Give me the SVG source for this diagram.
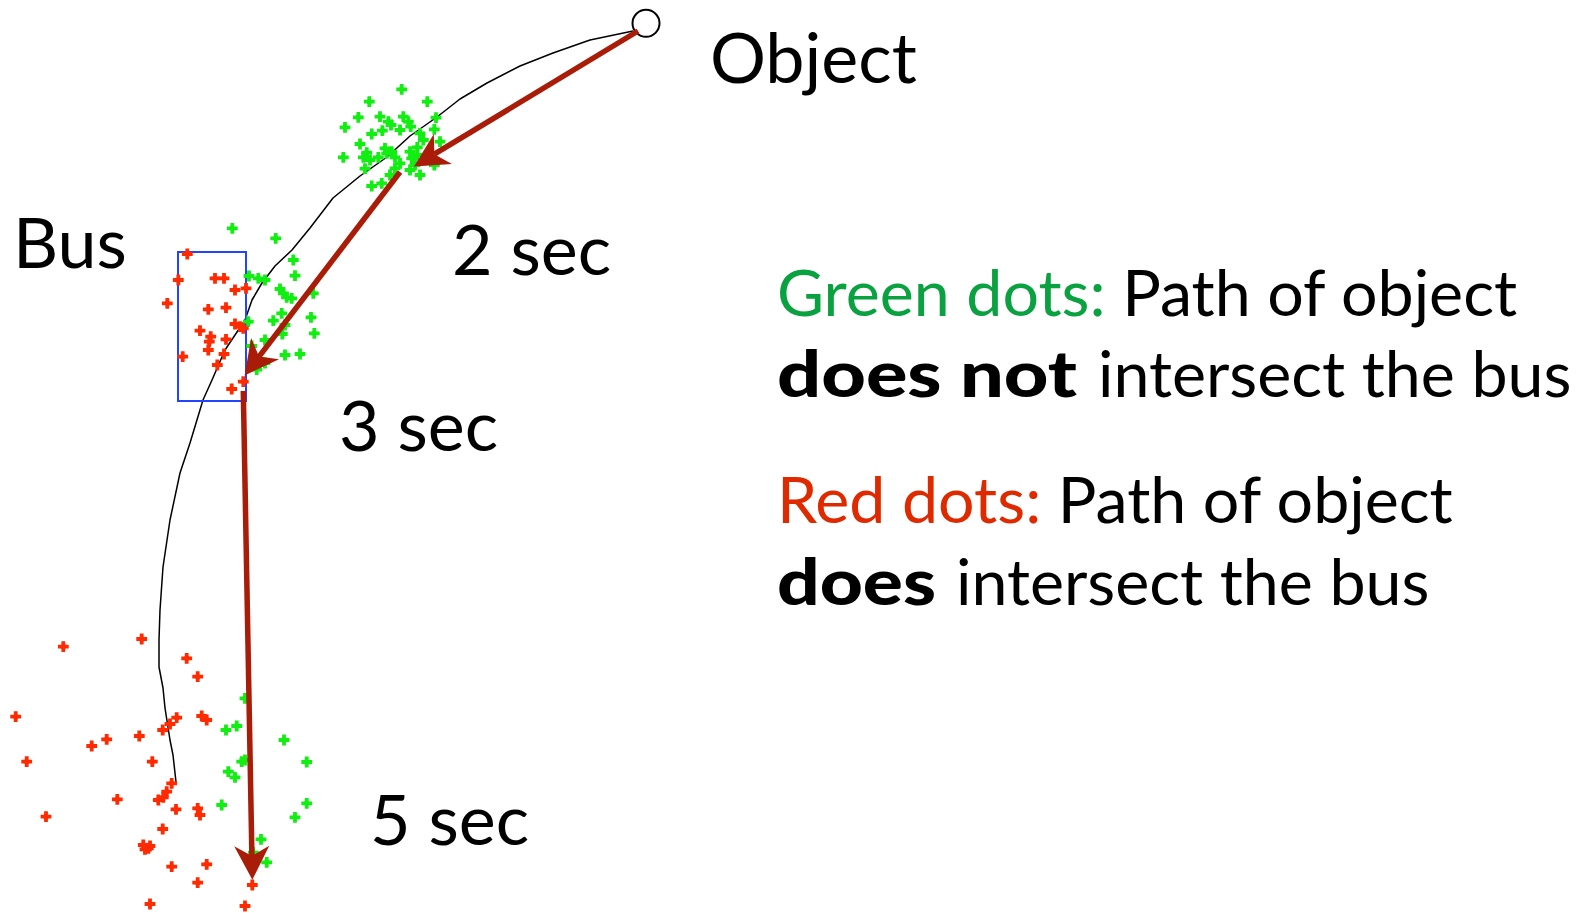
<svg xmlns="http://www.w3.org/2000/svg" xmlns:xlink="http://www.w3.org/1999/xlink" width="1587" height="913" viewBox="0 0 1587 913">
  <style>
    .lbl { font-family: Lato, "Open Sans", "Liberation Sans", sans-serif; fill: #000; }
    .big { font-size: 70px; }
    .note { font-size: 64.5px; }
    .b { font-weight: 900; }
    .gtxt { fill: #0aa140; }
    .rtxt { fill: #df2a00; }
    .gd { fill: #11ee11; }
    .rd { fill: #ff2a00; }
    .arrow { stroke: #a81c08; stroke-width: 5.5; fill: none; marker-end: url(#head); }
  </style>
  <defs>
    <marker id="head" markerUnits="userSpaceOnUse" markerWidth="40" markerHeight="40" refX="0" refY="0" orient="auto" overflow="visible" viewBox="-10 -16 32 32">
      <path d="M-8,-14 L19,0 L-8,14 L0,0 Z" fill="#a81c08"/>
    </marker>
    <!-- sample marker: a thick plus with a filled diamond core -->
    <path id="dot" d="M-5.4,-1.9 H5.4 V1.9 H-5.4 Z M-1.9,-5.4 H1.9 V5.4 H-1.9 Z M0,-4.3 L4.3,0 L0,4.3 L-4.3,0 Z"/>
  </defs>
  <rect width="1587" height="913" fill="#fff"/>

  <!-- trajectory of the object -->
  <g id="trajectory">
    <polyline points="633,31 590,40 553,53 520,66 487,83 460,99 437,117 410,136 387,157 360,176 333,198 310,228 292,250 275,266 262,283 252,300 245,320 235,335 225,350 212,380 203,400 190,443 180,473 170,520 163,567 160,610 159,640 159,667 163,688 165,708 170,740 173,755 176,782" fill="none" stroke="#000" stroke-width="1.5" stroke-linejoin="round"/>
  </g>

  <!-- bus footprint -->
  <g id="bus">
    <rect x="178" y="252" width="68" height="149" fill="none" stroke="#2244ff" stroke-width="2"/>
  </g>

  <!-- green samples: paths that miss the bus -->
  <g id="green-dots" class="gd">
    <use xlink:href="#dot" x="401.7" y="89.3"/><use xlink:href="#dot" x="369.3" y="101.7"/><use xlink:href="#dot" x="427.3" y="101.7"/>
    <use xlink:href="#dot" x="358.3" y="117.3"/><use xlink:href="#dot" x="345" y="127.3"/><use xlink:href="#dot" x="380" y="116.7"/>
    <use xlink:href="#dot" x="388.3" y="121.7"/><use xlink:href="#dot" x="391" y="125"/><use xlink:href="#dot" x="403.3" y="116.7"/>
    <use xlink:href="#dot" x="408.3" y="121.7"/><use xlink:href="#dot" x="410.7" y="126.7"/><use xlink:href="#dot" x="400" y="130"/>
    <use xlink:href="#dot" x="436" y="117.7"/><use xlink:href="#dot" x="371.7" y="134"/><use xlink:href="#dot" x="382.3" y="130.7"/>
    <use xlink:href="#dot" x="420" y="133.3"/><use xlink:href="#dot" x="423.3" y="140"/><use xlink:href="#dot" x="434.3" y="129.3"/>
    <use xlink:href="#dot" x="360" y="144"/><use xlink:href="#dot" x="366.7" y="152.7"/><use xlink:href="#dot" x="343.3" y="157.3"/>
    <use xlink:href="#dot" x="363.3" y="157.3"/><use xlink:href="#dot" x="370" y="160"/><use xlink:href="#dot" x="378.3" y="157.3"/>
    <use xlink:href="#dot" x="385" y="148.3"/><use xlink:href="#dot" x="391.7" y="151.7"/><use xlink:href="#dot" x="395" y="157.3"/>
    <use xlink:href="#dot" x="386.7" y="153.3"/><use xlink:href="#dot" x="410" y="151.7"/><use xlink:href="#dot" x="417.3" y="147.3"/>
    <use xlink:href="#dot" x="417.3" y="155"/><use xlink:href="#dot" x="411.7" y="158.3"/><use xlink:href="#dot" x="415" y="165"/>
    <use xlink:href="#dot" x="400" y="163.3"/><use xlink:href="#dot" x="395" y="168.3"/><use xlink:href="#dot" x="434.3" y="165"/>
    <use xlink:href="#dot" x="410" y="170"/><use xlink:href="#dot" x="420" y="175"/><use xlink:href="#dot" x="365" y="168.7"/>
    <use xlink:href="#dot" x="390" y="175"/><use xlink:href="#dot" x="381.7" y="183.3"/><use xlink:href="#dot" x="371.7" y="186"/>
    <use xlink:href="#dot" x="440" y="141.7"/>

    <use xlink:href="#dot" x="232.3" y="228.3"/><use xlink:href="#dot" x="275.7" y="238.3"/><use xlink:href="#dot" x="293.3" y="260"/>
    <use xlink:href="#dot" x="295" y="275.7"/><use xlink:href="#dot" x="249" y="276"/><use xlink:href="#dot" x="258.3" y="278.3"/>
    <use xlink:href="#dot" x="265" y="280"/><use xlink:href="#dot" x="280" y="289"/><use xlink:href="#dot" x="283.3" y="293.3"/>
    <use xlink:href="#dot" x="286.7" y="297.3"/><use xlink:href="#dot" x="291.7" y="298.3"/><use xlink:href="#dot" x="313.3" y="293.3"/>
    <use xlink:href="#dot" x="281.7" y="313.3"/><use xlink:href="#dot" x="273.3" y="320.7"/><use xlink:href="#dot" x="285" y="325"/>
    <use xlink:href="#dot" x="311" y="317.3"/><use xlink:href="#dot" x="248.3" y="321.7"/><use xlink:href="#dot" x="282.3" y="334"/>
    <use xlink:href="#dot" x="314.3" y="333.3"/><use xlink:href="#dot" x="265" y="340"/><use xlink:href="#dot" x="251.7" y="346"/>
    <use xlink:href="#dot" x="285" y="355"/><use xlink:href="#dot" x="300" y="354"/><use xlink:href="#dot" x="265" y="363"/>
    <use xlink:href="#dot" x="256.7" y="369.5"/>

    <use xlink:href="#dot" x="245" y="698.3"/><use xlink:href="#dot" x="226" y="730"/><use xlink:href="#dot" x="236.7" y="726"/>
    <use xlink:href="#dot" x="284" y="740"/><use xlink:href="#dot" x="306.7" y="762"/><use xlink:href="#dot" x="241.7" y="761.7"/>
    <use xlink:href="#dot" x="245" y="760"/><use xlink:href="#dot" x="228.3" y="771.7"/><use xlink:href="#dot" x="235" y="777.3"/>
    <use xlink:href="#dot" x="221.7" y="805"/><use xlink:href="#dot" x="306.7" y="803.3"/><use xlink:href="#dot" x="295" y="817.3"/>
    <use xlink:href="#dot" x="261" y="839.3"/><use xlink:href="#dot" x="253.3" y="852.7"/><use xlink:href="#dot" x="266.7" y="862.3"/>
  </g>

  <!-- red samples: paths that hit the bus -->
  <g id="red-dots" class="rd">
    <use xlink:href="#dot" x="187.3" y="254"/><use xlink:href="#dot" x="178.3" y="280"/><use xlink:href="#dot" x="215" y="278.3"/>
    <use xlink:href="#dot" x="224" y="278.3"/><use xlink:href="#dot" x="235" y="290"/><use xlink:href="#dot" x="246" y="288.3"/>
    <use xlink:href="#dot" x="167.3" y="303.3"/><use xlink:href="#dot" x="208.3" y="309.3"/><use xlink:href="#dot" x="226" y="307.7"/>
    <use xlink:href="#dot" x="235" y="324"/><use xlink:href="#dot" x="240" y="326.7"/><use xlink:href="#dot" x="243.3" y="328.3"/>
    <use xlink:href="#dot" x="200" y="330.7"/><use xlink:href="#dot" x="210.7" y="336.7"/><use xlink:href="#dot" x="209.3" y="341.7"/>
    <use xlink:href="#dot" x="226" y="339.3"/><use xlink:href="#dot" x="208.3" y="350"/><use xlink:href="#dot" x="224" y="354"/>
    <use xlink:href="#dot" x="182.7" y="356.7"/><use xlink:href="#dot" x="217.3" y="365"/><use xlink:href="#dot" x="243.3" y="381.7"/>
    <use xlink:href="#dot" x="231.7" y="389"/>

    <use xlink:href="#dot" x="63.3" y="646.7"/><use xlink:href="#dot" x="141.7" y="639"/><use xlink:href="#dot" x="186.7" y="658.3"/>
    <use xlink:href="#dot" x="197.7" y="676.7"/><use xlink:href="#dot" x="15.7" y="716.7"/><use xlink:href="#dot" x="176.7" y="717.7"/>
    <use xlink:href="#dot" x="170" y="724"/><use xlink:href="#dot" x="162.7" y="730"/><use xlink:href="#dot" x="201.7" y="716"/>
    <use xlink:href="#dot" x="206.7" y="720"/><use xlink:href="#dot" x="139.3" y="736"/><use xlink:href="#dot" x="106.7" y="739.3"/>
    <use xlink:href="#dot" x="91.7" y="746"/><use xlink:href="#dot" x="26.7" y="761.7"/><use xlink:href="#dot" x="152.3" y="761.7"/>
    <use xlink:href="#dot" x="171.7" y="783.3"/><use xlink:href="#dot" x="166.7" y="791.7"/><use xlink:href="#dot" x="163.3" y="797.3"/>
    <use xlink:href="#dot" x="158.3" y="800"/><use xlink:href="#dot" x="117.3" y="799.3"/><use xlink:href="#dot" x="176" y="809.3"/>
    <use xlink:href="#dot" x="197.7" y="808.3"/><use xlink:href="#dot" x="200" y="815"/><use xlink:href="#dot" x="46" y="816.7"/>
    <use xlink:href="#dot" x="162.7" y="829"/><use xlink:href="#dot" x="143.3" y="845"/><use xlink:href="#dot" x="148.3" y="848.3"/>
    <use xlink:href="#dot" x="145" y="849.3"/><use xlink:href="#dot" x="150" y="846"/><use xlink:href="#dot" x="171.7" y="866.7"/>
    <use xlink:href="#dot" x="206.7" y="864.3"/><use xlink:href="#dot" x="197.7" y="882.7"/><use xlink:href="#dot" x="252.3" y="885"/>
    <use xlink:href="#dot" x="150" y="904"/><use xlink:href="#dot" x="245" y="906"/>
  </g>

  <!-- current object position -->
  <g id="object">
    <circle cx="646" cy="23.3" r="13.5" fill="#fff" stroke="#000" stroke-width="2"/>
  </g>

  <!-- predicted motion -->
  <g id="connectors">
    <line class="arrow" x1="638" y1="31" x2="434.3" y2="154.2"/>
    <line class="arrow" x1="400" y1="172" x2="259" y2="356.6"/>
    <line class="arrow" x1="243.3" y1="391" x2="251.9" y2="856"/>
  </g>

  <!-- labels -->
  <g id="labels">
    <text class="lbl big" x="710" y="83">Object</text>
    <text class="lbl big" x="13" y="268">Bus</text>
    <text class="lbl big" x="452" y="275">2 sec</text>
    <text class="lbl big" x="339" y="451">3 sec</text>
    <text class="lbl big" x="370" y="845">5 sec</text>
  </g>

  <g id="legend">
    <text class="lbl note" x="777" y="316"><tspan class="gtxt">Green dots:</tspan> Path of object</text>
    <text class="lbl note b" x="777" y="397" textLength="300" lengthAdjust="spacingAndGlyphs">does not</text>
    <text class="lbl note" x="1098" y="397">intersect the bus</text>
    <text class="lbl note" x="777" y="523"><tspan class="rtxt">Red dots:</tspan> Path of object</text>
    <text class="lbl note b" x="777" y="605" textLength="159" lengthAdjust="spacingAndGlyphs">does</text>
    <text class="lbl note" x="956" y="605">intersect the bus</text>
  </g>
</svg>
